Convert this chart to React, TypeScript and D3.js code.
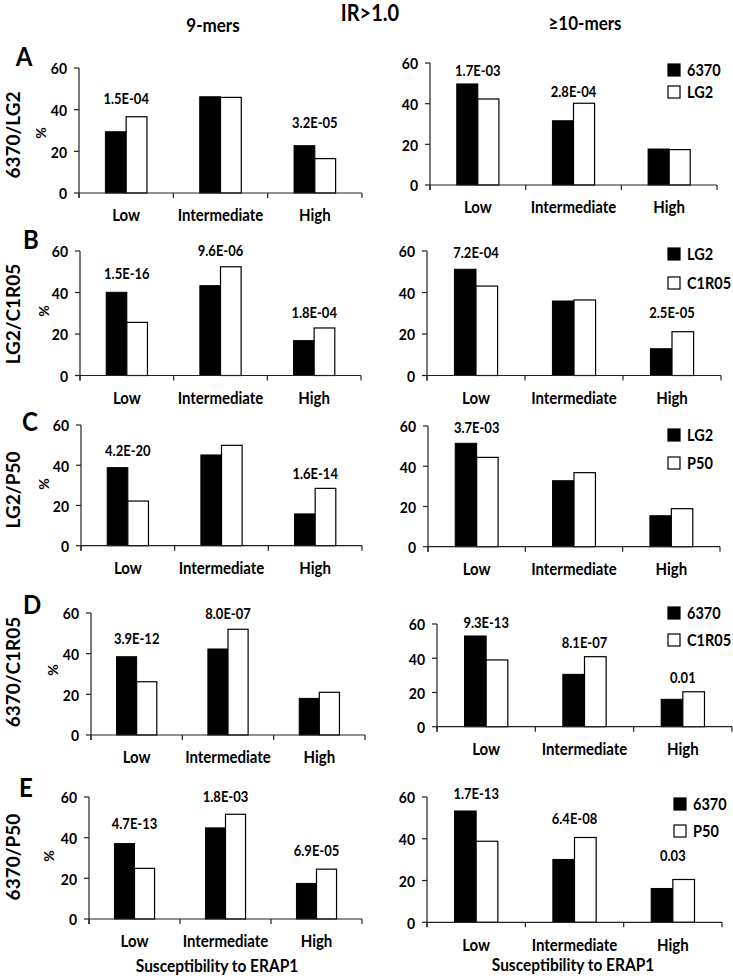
import React from 'react';
import * as d3 from 'd3';

// ---------- data ----------
const categories = ['Low', 'Intermediate', 'High'];
const yTicks = [0, 20, 40, 60];
const panelLetters = ['A', 'B', 'C', 'D', 'E'];
const rowLabels = ['6370/LG2', 'LG2/C1R05', 'LG2/P50', '6370/C1R05', '6370/P50'];
const seriesNames = [
  ['6370', 'LG2'],
  ['LG2', 'C1R05'],
  ['LG2', 'P50'],
  ['6370', 'C1R05'],
  ['6370', 'P50'],
];
// 9-mers (first = black, second = white)
const nineFirst = [
  [29.4, 46.2, 22.7],
  [40.1, 43.3, 16.8],
  [38.8, 45.1, 15.8],
  [38.5, 42.3, 18.0],
  [37.1, 44.8, 17.5],
];
const nineSecond = [
  [36.6, 45.9, 16.5],
  [25.6, 52.4, 22.9],
  [22.2, 49.9, 28.5],
  [26.2, 52.0, 21.0],
  [24.9, 51.5, 24.5],
];
const ninePValues = [
  ['1.5E-04', '', '3.2E-05'],
  ['1.5E-16', '9.6E-06', '1.8E-04'],
  ['4.2E-20', '', '1.6E-14'],
  ['3.9E-12', '8.0E-07', ''],
  ['4.7E-13', '1.8E-03', '6.9E-05'],
];
// >=10-mers
const tenFirst = [
  [49.7, 31.6, 17.7],
  [51.2, 35.9, 12.9],
  [51.4, 32.8, 15.4],
  [53.0, 30.6, 16.0],
  [53.3, 30.1, 16.2],
];
const tenSecond = [
  [42.3, 40.2, 17.4],
  [43.1, 36.4, 21.1],
  [44.4, 36.8, 18.9],
  [39.0, 40.9, 20.4],
  [38.8, 40.6, 20.5],
];
const tenPValues = [
  ['1.7E-03', '2.8E-04', ''],
  ['7.2E-04', '', '2.5E-05'],
  ['3.7E-03', '', ''],
  ['9.3E-13', '8.1E-07', '0.01'],
  ['1.7E-13', '6.4E-08', '0.03'],
];

// ---------- layout ----------
const leftLayout = [
  { x0: 79, x1: 362, yTop: 68, yBot: 193, pY: [45.6, 0, 34.1] },
  { x0: 80, x1: 361, yTop: 251, yBot: 375.5, pY: [49.5, 60.5, 30.3] },
  { x0: 81, x1: 362, yTop: 425, yBot: 545.7, pY: [47.6, 0, 36.3] },
  { x0: 91, x1: 365, yTop: 613, yBot: 735, pY: [47.7, 60.0, 0] },
  { x0: 89, x1: 362, yTop: 797, yBot: 919, pY: [47.1, 60.3, 33.9] },
];
const rightLayout = [
  { x0: 430, x1: 717, yTop: 63, yBot: 185, pY: [56.6, 46.2, 0], lx: 674, ly: 70, lg: 22 },
  { x0: 427, x1: 721, yTop: 251, yBot: 375.5, pY: [59.5, 0, 30.6], lx: 674, ly: 254, lg: 29 },
  { x0: 428, x1: 720, yTop: 426, yBot: 546.7, pY: [59.5, 0, 0], lx: 674, ly: 435, lg: 28 },
  { x0: 437, x1: 732, yTop: 624, yBot: 726.7, pY: [61.2, 49.5, 29.0], lx: 674, ly: 613, lg: 27 },
  { x0: 427, x1: 722, yTop: 797, yBot: 922.3, pY: [61.7, 49.8, 32.1], lx: 680, ly: 804, lg: 27 },
];
const rowDecor = [
  { letter: [24, 55], row: [12, 135], pct: [40, 133] },
  { letter: [31, 238], row: [12, 314], pct: [43, 311] },
  { letter: [30, 420], row: [12, 490], pct: [43, 484] },
  { letter: [32, 603], row: [12, 672], pct: [52, 670] },
  { letter: [26, 786], row: [12, 857], pct: [48, 856] },
];

const FONT = 'Lato, "Open Sans", sans-serif';
const AXIS = '#222';
const STRETCH = 1.13;

function T({ x, y, size, anchor = 'middle', rotate = 0, stretch = STRETCH, children }: any) {
  return (
    <text
      transform={`translate(${x},${y}) rotate(${rotate}) scale(1,${stretch})`}
      textAnchor={anchor}
      dominantBaseline="central"
      fontSize={size}
      fontWeight="bold"
      fontFamily={FONT}
      fill="#000"
    >
      {children}
    </text>
  );
}

function Panel({ lay, first, second, pvals, legend }: any) {
  const x = d3.scaleBand<string>().domain(categories).range([lay.x0, lay.x1]).paddingInner(0).paddingOuter(0);
  const sub = d3.scaleBand<string>().domain(['a', 'b']).range([0, x.bandwidth()]).paddingInner(0).paddingOuter(1.27);
  const y = d3.scaleLinear().domain([0, 60]).range([lay.yBot, lay.yTop]);
  const boundaries = [...categories.map((c) => x(c) as number), lay.x1];
  return (
    <g>
      {categories.map((c, i) => (
        <g key={c}>
          <rect x={(x(c) as number) + (sub('a') as number)} y={y(first[i])} width={sub.bandwidth()} height={y(0) - y(first[i])} fill="#000" stroke="#000" strokeWidth={1} />
          <rect x={(x(c) as number) + (sub('b') as number)} y={y(second[i])} width={sub.bandwidth()} height={y(0) - y(second[i])} fill="#fff" stroke="#000" strokeWidth={1.2} />
          {pvals[i] ? (
            <T x={(x(c) as number) + x.bandwidth() / 2} y={y(lay.pY[i])} size={13}>
              {pvals[i]}
            </T>
          ) : null}
          <T x={(x(c) as number) + x.bandwidth() / 2} y={lay.yBot + 21.5} size={15}>
            {c}
          </T>
        </g>
      ))}
      <line x1={lay.x0} x2={lay.x0} y1={lay.yTop} y2={lay.yBot + 5} stroke={AXIS} strokeWidth={1.2} />
      <line x1={lay.x0} x2={lay.x1} y1={lay.yBot} y2={lay.yBot} stroke={AXIS} strokeWidth={1.2} />
      {boundaries.map((b, i) => (
        <line key={'b' + i} x1={b} x2={b} y1={lay.yBot} y2={lay.yBot + 5} stroke={AXIS} strokeWidth={1.2} />
      ))}
      {yTicks.map((t) => (
        <g key={'t' + t}>
          <line x1={lay.x0 - 5} x2={lay.x0} y1={y(t)} y2={y(t)} stroke={AXIS} strokeWidth={1.2} />
          <T x={lay.x0 - 12} y={y(t)} size={14} anchor="end">
            {t}
          </T>
        </g>
      ))}
      {legend ? (
        <g>
          {legend.names.map((n: string, i: number) => (
            <g key={n}>
              <rect x={lay.lx - 6} y={lay.ly + i * lay.lg - 6} width={12} height={12} fill={i === 0 ? '#000' : '#fff'} stroke="#000" strokeWidth={1.2} />
              <T x={lay.lx + 13} y={lay.ly + i * lay.lg} size={14.5} anchor="start">
                {n}
              </T>
            </g>
          ))}
        </g>
      ) : null}
    </g>
  );
}

export default function App() {
  return (
    <svg width={733} height={978} style={{ position: 'absolute', left: 0, top: 0, background: '#fff' }}>
      <rect width={733} height={978} fill="#fff" />
      <T x={370} y={13} size={20}>IR&gt;1.0</T>
      <T x={213} y={25} size={17}>9-mers</T>
      <T x={585} y={23} size={17}>≥10-mers</T>
      {leftLayout.map((lay, r) => (
        <g key={'row' + r}>
          <T x={rowDecor[r].letter[0]} y={rowDecor[r].letter[1]} size={24}>
            {panelLetters[r]}
          </T>
          <T x={rowDecor[r].row[0]} y={rowDecor[r].row[1]} size={19} rotate={-90} stretch={1}>
            {rowLabels[r]}
          </T>
          <T x={rowDecor[r].pct[0]} y={rowDecor[r].pct[1]} size={14} rotate={-90} stretch={1}>
            %
          </T>
          <Panel lay={lay} first={nineFirst[r]} second={nineSecond[r]} pvals={ninePValues[r]} />
          <Panel lay={rightLayout[r]} first={tenFirst[r]} second={tenSecond[r]} pvals={tenPValues[r]} legend={{ names: seriesNames[r] }} />
        </g>
      ))}
      <T x={217} y={965} size={15.5} stretch={1.05}>Susceptibility to ERAP1</T>
      <T x={573} y={964} size={15.5} stretch={1.05}>Susceptibility to ERAP1</T>
    </svg>
  );
}
